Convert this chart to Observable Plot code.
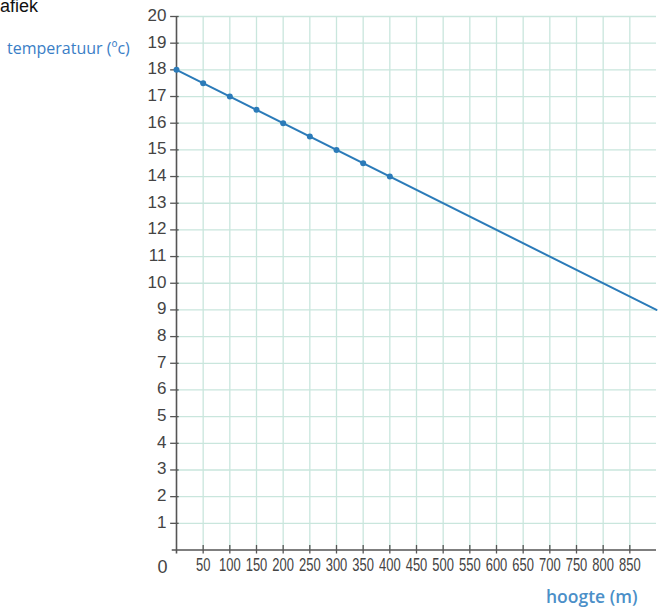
<!DOCTYPE html>
<html>
<head>
<meta charset="utf-8">
<script src="https://cdn.jsdelivr.net/npm/d3@7"></script>
<script src="https://cdn.jsdelivr.net/npm/@observablehq/plot@0.6"></script>
<style>
  html, body { margin: 0; padding: 0; background: #fff; }
  #chart { position: relative; width: 659px; height: 608px; overflow: hidden; }
</style>
</head>
<body>
<div id="chart"></div>
<script>
// data
const heights = [0, 50, 100, 150, 200, 250, 300, 350, 400];
const temps = [18, 17.5, 17, 16.5, 16, 15.5, 15, 14.5, 14];
const lineHeights = [0, 900];
const lineTemps = [18, 9];
const xTicks = [50, 100, 150, 200, 250, 300, 350, 400, 450, 500, 550, 600, 650, 700, 750, 800, 850];
const yTicks = [1, 2, 3, 4, 5, 6, 7, 8, 9, 10, 11, 12, 13, 14, 15, 16, 17, 18, 19, 20];
const titleText = "afiek";
const yLabel = "temperatuur (ºc)";
const xLabel = "hoogte (m)";

const points = heights.map((h, i) => ({h, t: temps[i]}));
const line = lineHeights.map((h, i) => ({h, t: lineTemps[i]}));

const grid = "#c9e6dd";
const axisCol = "#555";
const blue = "#2b7bb9";

const svg = Plot.plot({
  width: 659,
  height: 608,
  marginLeft: 176,
  marginRight: 3,
  marginTop: 16,
  marginBottom: 58.5,
  x: {domain: [0, 900]},
  y: {domain: [0, 20]},
  style: {background: "#fff", fontFamily: "Liberation Sans, Arial, sans-serif", color: "#444"},
  marks: [
    Plot.ruleX(xTicks, {stroke: grid, strokeWidth: 1.3}),
    Plot.ruleY(yTicks, {stroke: grid, strokeWidth: 1.3}),
    Plot.ruleX([0], {y1: -0.15, y2: 20, stroke: axisCol, strokeWidth: 1.6}),
    Plot.ruleY([0], {x1: -8, x2: 900, stroke: axisCol, strokeWidth: 1.6}),
    Plot.ruleX(xTicks, {y1: -0.15, y2: 0.17, stroke: axisCol, strokeWidth: 1.3}),
    Plot.ruleY(yTicks, {x1: -11, x2: 5, stroke: axisCol, strokeWidth: 1.3}),
    Plot.axisY({ticks: yTicks, tickSize: 0, tickPadding: 10, fontSize: 17, label: null, tickFormat: d => String(d), dy: -1}),
    Plot.axisX({ticks: xTicks, tickSize: 0, tickPadding: 8, fontSize: 18, label: null, tickFormat: d => String(d)}),
    Plot.text([0], {x: 0, y: 0, dx: -14, dy: 17, text: d => String(d), fontSize: 18}),
    Plot.line(line, {x: "h", y: "t", stroke: blue, strokeWidth: 2}),
    Plot.dot(points, {x: "h", y: "t", r: 3, fill: blue})
  ]
});

const s = d3.select(svg);
// condensed look of the x tick labels (horizontal squeeze)
s.selectAll('g[aria-label="x-axis tick label"] text').each(function() {
  const t = d3.select(this);
  const tr = t.attr("transform") || "";
  t.attr("transform", tr + " scale(0.72,1)");
});
s.append("text").attr("x", 0).attr("y", 12).attr("font-size", 18).attr("fill", "#111")
  .attr("text-anchor", "start")
  .attr("font-family", "Liberation Sans, Arial, sans-serif").text(titleText);
s.append("text").attr("x", 7).attr("y", 54).attr("font-size", 16).attr("fill", "#3a7ec6")
  .attr("text-anchor", "start")
  .attr("font-family", "Open Sans, Noto Sans, sans-serif").text(yLabel);
s.append("text").attr("x", 546).attr("y", 603).attr("font-size", 17.5).attr("font-weight", 600).attr("fill", "#4b8fc8")
  .attr("text-anchor", "start")
  .attr("font-family", "Open Sans, Noto Sans, sans-serif").text(xLabel);

document.getElementById("chart").appendChild(svg);
</script>
</body>
</html>
